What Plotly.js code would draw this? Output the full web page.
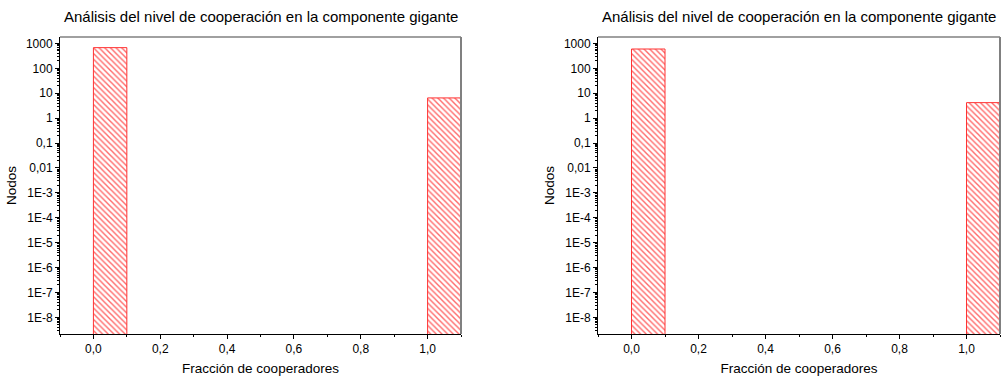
<!DOCTYPE html>
<html>
<head>
<meta charset="utf-8">
<script src="https://cdn.plot.ly/plotly-3.0.1.min.js"></script>
<style>html,body{margin:0;padding:0;background:#fff;}#chart{width:1002px;height:379px;}</style>
</head>
<body>
<div id="chart"></div>
<script>
// Data
const binStarts = [0.0, 1.0];
const binWidth = 0.1;
const nodosLeft = [680, 6.5];
const nodosRight = [600, 4.2];
const chartTitle = "Análisis del nivel de cooperación en la componente gigante";
const xTitle = "Fracción de cooperadores";
const yTitle = "Nodos";
const xTickVals = [0, 0.2, 0.4, 0.6, 0.8, 1.0];
const xTickText = ["0,0", "0,2", "0,4", "0,6", "0,8", "1,0"];
const yTickVals = [1000, 100, 10, 1, 0.1, 0.01, 1e-3, 1e-4, 1e-5, 1e-6, 1e-7, 1e-8];
const yTickText = ["1000", "100", "10", "1", "0,1", "0,01", "1E-3", "1E-4", "1E-5", "1E-6", "1E-7", "1E-8"];

const FONT = "Liberation Sans, Arial, sans-serif";

// minor tick positions for the log axis (2..9 within each decade)
const yMinorVals = [];
for (let e = -9; e <= 3; e++) {
  for (let m = 2; m <= 9; m++) yMinorVals.push(m * Math.pow(10, e));
}

function barTrace(vals, xa, ya) {
  return {
    type: 'bar',
    x: binStarts.map(s => s + binWidth / 2),
    y: vals,
    width: binStarts.map(() => binWidth),
    xaxis: xa, yaxis: ya,
    marker: {
      color: 'rgba(255,255,255,0)',
      line: {color: '#ff3333', width: 1},
      pattern: {shape: '\\', fgcolor: '#ff6a6a', bgcolor: 'white', size: 4, solidity: 0.35}
    },
    hoverinfo: 'x+y',
    showlegend: false
  };
}

function xAxis(domain, anchor) {
  return {
    domain: domain, anchor: anchor, range: [-0.1, 1.1],
    tickmode: 'array', tickvals: xTickVals, ticktext: xTickText,
    ticks: 'outside', ticklen: 4, tickcolor: '#000', tickwidth: 1,
    minor: {ticks: 'outside', ticklen: 2, dtick: 0.1, tick0: 0, tickcolor: '#000', showgrid: false},
    showline: true, linecolor: '#000', linewidth: 1,
    showgrid: false, zeroline: false,
    tickfont: {family: FONT, size: 12, color: '#000'},
    title: {text: xTitle, font: {family: FONT, size: 13.5, color: '#000'}, standoff: 8}
  };
}

function yAxis(domain, anchor) {
  return {
    domain: domain, anchor: anchor, type: 'log', range: [-8.67, 3.26],
    tickmode: 'array', tickvals: yTickVals, ticktext: yTickText,
    ticks: 'outside', ticklen: 4, tickcolor: '#000', tickwidth: 1,
    showline: true, linecolor: '#000', linewidth: 1,
    showgrid: false, zeroline: false,
    tickfont: {family: FONT, size: 12, color: '#000'},
    title: {text: yTitle, font: {family: FONT, size: 13.5, color: '#000'}, standoff: 6}
  };
}

function yMinorAxis(domain, anchor, overlay) {
  return {
    domain: domain, anchor: anchor, overlaying: overlay, side: 'left',
    type: 'log', range: [-8.67, 3.26],
    tickmode: 'array', tickvals: yMinorVals, showticklabels: false,
    ticks: 'outside', ticklen: 2, tickcolor: '#000', tickwidth: 1,
    showline: false, showgrid: false, zeroline: false
  };
}

const yDom = [1 - 334 / 379, 1 - 37 / 379];
const x1Dom = [60 / 1002, 461 / 1002];
const x2Dom = [598 / 1002, 1000 / 1002];

function frame(xref, yref) {
  return [
    {type: 'line', xref: xref + ' domain', yref: yref + ' domain', x0: 0, x1: 1, y0: 1, y1: 1, line: {color: '#808080', width: 1.5}},
    {type: 'line', xref: xref + ' domain', yref: yref + ' domain', x0: 1, x1: 1, y0: 0, y1: 1, line: {color: '#808080', width: 2}}
  ];
}

const layout = {
  width: 1002, height: 379,
  margin: {l: 0, r: 0, t: 0, b: 0},
  paper_bgcolor: '#fff', plot_bgcolor: '#fff',
  bargap: 0,
  xaxis: xAxis(x1Dom, 'y'),
  yaxis: yAxis(yDom, 'x'),
  xaxis2: xAxis(x2Dom, 'y2'),
  yaxis2: yAxis(yDom, 'x2'),
  yaxis3: yMinorAxis(yDom, 'x', 'y'),
  yaxis4: yMinorAxis(yDom, 'x2', 'y2'),
  shapes: frame('x', 'y').concat(frame('x2', 'y2')),
  annotations: [
    {text: chartTitle, xref: 'paper', yref: 'paper', x: (x1Dom[0] + x1Dom[1]) / 2, y: 1 - 16 / 379, xanchor: 'center', yanchor: 'middle', showarrow: false, font: {family: FONT, size: 15, color: '#000'}},
    {text: chartTitle, xref: 'paper', yref: 'paper', x: (x2Dom[0] + x2Dom[1]) / 2, y: 1 - 16 / 379, xanchor: 'center', yanchor: 'middle', showarrow: false, font: {family: FONT, size: 15, color: '#000'}}
  ]
};

// invisible helper traces so the minor-tick axes are drawn
const helper1 = {type: 'scatter', x: [], y: [], xaxis: 'x', yaxis: 'y3', showlegend: false, hoverinfo: 'skip'};
const helper2 = {type: 'scatter', x: [], y: [], xaxis: 'x2', yaxis: 'y4', showlegend: false, hoverinfo: 'skip'};

Plotly.newPlot('chart', [barTrace(nodosLeft, 'x', 'y'), barTrace(nodosRight, 'x2', 'y2'), helper1, helper2], layout, {displayModeBar: false, staticPlot: true});
</script>
</body>
</html>
